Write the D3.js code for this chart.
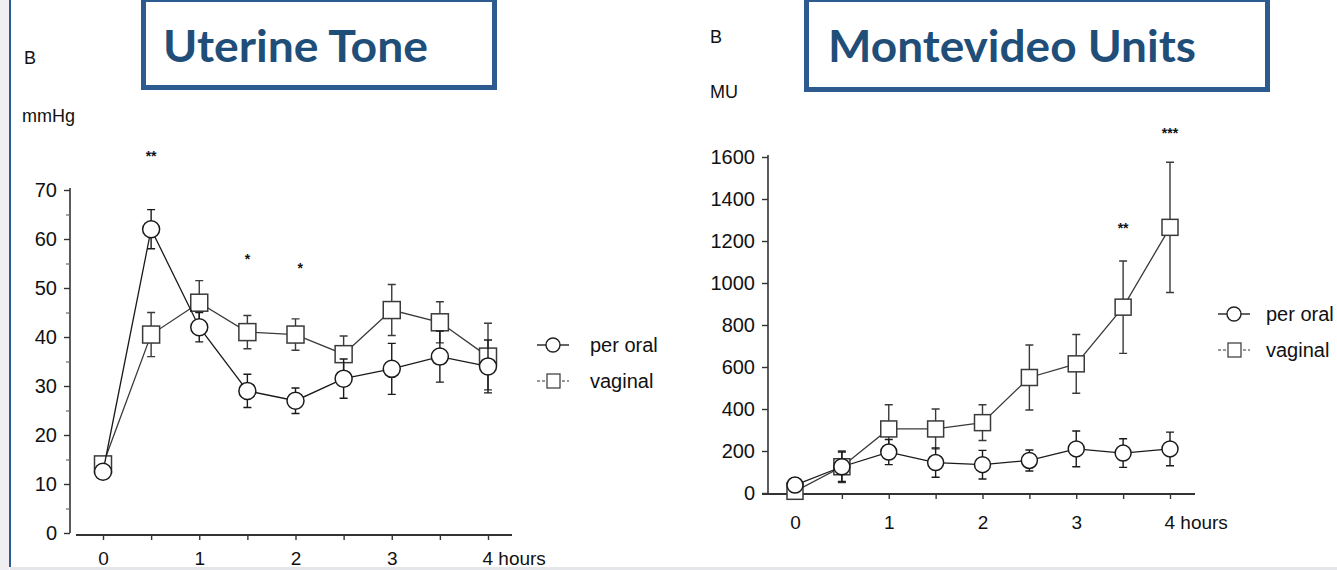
<!DOCTYPE html>
<html>
<head>
<meta charset="utf-8" />
<title>Uterine Tone / Montevideo Units</title>
<script src="https://d3js.org/d3.v7.min.js"></script>
<style>
  body { margin: 0; background: #fff; }
  text { font-family: "Liberation Sans", Arial, sans-serif; fill: #111; }
  .title { font-family: Lato, "Open Sans", sans-serif; font-weight: bold; fill: #1f4e79; }
</style>
</head>
<body>
<div id="canvas"></div>
<script>
// time points (hours)
var hours = [0, 0.5, 1, 1.5, 2, 2.5, 3, 3.5, 4];
var hourTicks = [0, 0.5, 1, 1.5, 2, 2.5, 3, 3.5, 4];
var hourLabels = ["0", "", "1", "", "2", "", "3", "", "4  hours"];

// uterine tone, mmHg
var toneOral = [12.5, 62, 42, 29, 27, 31.5, 33.5, 36, 34];
var toneOralSE = [1.2, 4, 3, 3.4, 2.6, 4, 5.2, 5.2, 5.4];
var toneVaginal = [14, 40.5, 47, 41, 40.5, 36.5, 45.5, 43, 36];
var toneVaginalSE = [1, 4.5, 4.5, 3.4, 3.2, 3.7, 5.2, 4.2, 6.8];
var toneTicks = [0, 10, 20, 30, 40, 50, 60, 70];
var toneStars = [{ h: 0.5, v: 76, t: "**" }, { h: 1.5, v: 55, t: "*" }, { h: 2.05, v: 53, t: "*" }];

// Montevideo units
var muOral = [38, 125, 195, 145, 135, 155, 210, 190, 210];
var muOralSE = [35, 70, 60, 70, 68, 50, 85, 68, 80];
var muVaginal = [8, 125, 305, 305, 335, 550, 615, 885, 1265];
var muVaginalSE = [10, 75, 115, 95, 85, 155, 140, 220, 310];
var muTicks = [0, 200, 400, 600, 800, 1000, 1200, 1400, 1600];
var muStars = [{ h: 3.5, v: 1240, t: "**" }, { h: 4, v: 1690, t: "***" }];

var svg = d3.select("#canvas").append("svg")
  .attr("width", 1337).attr("height", 570);

// slide frame
svg.append("rect").attr("x", 0).attr("y", 0).attr("width", 9).attr("height", 570).attr("fill", "#efeff1");
svg.append("line").attr("x1", 10).attr("x2", 10).attr("y1", 0).attr("y2", 567)
  .attr("stroke", "#2e5b8f").attr("stroke-width", 2);

function drawPanel(p) {
  var g = svg.append("g");
  var x = d3.scaleLinear().domain([0, 4]).range(p.xRange);
  var y = d3.scaleLinear().domain(p.yDomain).range(p.yRange);

  // y axis
  var yAxis = d3.axisLeft(y).tickValues(p.yTicks).tickSize(6).tickPadding(7).tickFormat(d3.format("d"));
  var ga = g.append("g").attr("transform", "translate(" + p.yAxisX + ",0)").call(yAxis);
  ga.attr("font-size", 20).attr("font-family", "Liberation Sans, Arial, sans-serif");
  ga.select(".domain").attr("stroke", "#333").attr("stroke-width", 1.6)
    .attr("d", "M0," + y(p.yDomain[0]) + "V" + (y(p.yDomain[1]) - 2));
  ga.selectAll(".tick line").attr("stroke", "#333").attr("stroke-width", 1.4);
  ga.selectAll(".tick text").attr("fill", "#111");
  if (p.minor) {
    g.append("g").attr("transform", "translate(" + p.yAxisX + ",0)")
      .call(d3.axisLeft(y).tickValues(p.minor).tickSize(4).tickFormat(""))
      .call(function (s) {
        s.select(".domain").remove();
        s.selectAll(".tick line").attr("stroke", "#666").attr("stroke-width", 1.2);
      });
  }

  // x axis
  var xAxis = d3.axisBottom(x).tickValues(hourTicks).tickSize(5).tickPadding(p.xPad)
    .tickFormat(function (d, i) { return hourLabels[i]; });
  var gx = g.append("g").attr("transform", "translate(0," + p.xAxisY + ")").call(xAxis);
  gx.attr("font-size", 19).attr("font-family", "Liberation Sans, Arial, sans-serif");
  gx.select(".domain").attr("stroke", "#333").attr("stroke-width", 2)
    .attr("d", "M" + p.xLine[0] + ",0H" + p.xLine[1]);
  gx.selectAll(".tick line").attr("stroke", "#333").attr("stroke-width", 1.4);
  gx.selectAll(".tick text").attr("fill", "#111")
    .attr("text-anchor", function (d, i) { return i === 8 ? "start" : "middle"; })
    .attr("dx", function (d, i) { return i === 8 ? -6 : 0; });

  var line = d3.line().x(function (d) { return x(d[0]); }).y(function (d) { return y(d[1]); });

  function series(vals, se, color, shape) {
    var pts = hours.map(function (h, i) { return [h, vals[i], se[i]]; });
    // error bars
    var eb = g.append("g").attr("stroke", color).attr("stroke-width", 1.4).attr("fill", "none");
    pts.forEach(function (d) {
      var x0 = x(d[0]), lo = y(Math.max(0, d[1] - d[2])), hi = y(d[1] + d[2]);
      eb.append("path").attr("d", "M" + x0 + "," + lo + "V" + hi +
        "M" + (x0 - 4) + "," + hi + "H" + (x0 + 4) + "M" + (x0 - 4) + "," + lo + "H" + (x0 + 4));
    });
    g.append("path").datum(pts).attr("d", line).attr("fill", "none")
      .attr("stroke", color).attr("stroke-width", 1.3);
    var m = g.append("g");
    pts.forEach(function (d) {
      if (shape === "circle") {
        m.append("circle").attr("cx", x(d[0])).attr("cy", y(d[1])).attr("r", p.r)
          .attr("fill", "#fff").attr("stroke", color).attr("stroke-width", 1.5);
      } else {
        m.append("rect").attr("x", x(d[0]) - p.r).attr("y", y(d[1]) - p.r)
          .attr("width", p.r * 2).attr("height", p.r * 2)
          .attr("fill", "#fff").attr("stroke", color).attr("stroke-width", 1.5);
      }
    });
  }
  series(p.vaginal, p.vaginalSE, "#3a3a3a", "square");
  series(p.oral, p.oralSE, "#1a1a1a", "circle");

  // significance marks
  p.stars.forEach(function (s) {
    g.append("text").attr("x", x(s.h)).attr("y", y(s.v)).attr("text-anchor", "middle")
      .attr("font-size", 14).attr("font-weight", "bold").text(s.t);
  });

  // legend
  var lg = g.append("g").attr("transform", "translate(" + p.legend[0] + "," + p.legend[1] + ")");
  lg.append("line").attr("x1", 0).attr("x2", 32).attr("y1", 0).attr("y2", 0).attr("stroke", "#222").attr("stroke-width", 1.4);
  lg.append("circle").attr("cx", 16).attr("cy", 0).attr("r", 7).attr("fill", "#fff").attr("stroke", "#222").attr("stroke-width", 1.4);
  lg.append("text").attr("x", p.legendGap).attr("y", 7).attr("font-size", 20).text("per oral");
  lg.append("line").attr("x1", 0).attr("x2", 32).attr("y1", 36).attr("y2", 36).attr("stroke", "#777")
    .attr("stroke-width", 1.3).attr("stroke-dasharray", "3,2");
  lg.append("rect").attr("x", 10).attr("y", 29).attr("width", 13).attr("height", 14).attr("fill", "#fff").attr("stroke", "#444").attr("stroke-width", 1.3);
  lg.append("text").attr("x", p.legendGap).attr("y", 43).attr("font-size", 20).text("vaginal");

  // labels
  g.append("text").attr("x", p.bPos[0]).attr("y", p.bPos[1]).attr("font-size", 18).text("B");
  g.append("text").attr("x", p.unitPos[0]).attr("y", p.unitPos[1]).attr("font-size", 18).text(p.unit);

  // title box
  svg.append("rect").attr("x", p.box[0]).attr("y", p.box[1]).attr("width", p.box[2]).attr("height", p.box[3])
    .attr("fill", "none").attr("stroke", "#2e5b8f").attr("stroke-width", 5);
  svg.append("text").attr("class", "title").attr("x", p.titlePos[0]).attr("y", p.titlePos[1])
    .attr("font-size", 43).attr("textLength", p.titleLen).attr("lengthAdjust", "spacingAndGlyphs")
    .text(p.title);
}

drawPanel({
  xRange: [103, 488], yDomain: [0, 70], yRange: [533, 190], yTicks: toneTicks,
  minor: [5, 15, 25, 35, 45, 55, 65], yAxisX: 70, xAxisY: 535, xLine: [76, 512], xPad: 12,
  oral: toneOral, oralSE: toneOralSE, vaginal: toneVaginal, vaginalSE: toneVaginalSE,
  stars: toneStars, r: 8.5, legend: [537, 345], legendGap: 53, bPos: [24, 64], unitPos: [22, 122], unit: "mmHg",
  box: [143.5, -0.5, 351, 88], titlePos: [163, 62], titleLen: 265, title: "Uterine Tone"
});

drawPanel({
  xRange: [795, 1170], yDomain: [0, 1600], yRange: [493, 157], yTicks: muTicks,
  yAxisX: 768, xAxisY: 494, xLine: [762, 1195], xPad: 17,
  oral: muOral, oralSE: muOralSE, vaginal: muVaginal, vaginalSE: muVaginalSE,
  stars: muStars, r: 8, legend: [1218, 314], legendGap: 48, bPos: [710, 43], unitPos: [710, 98], unit: "MU",
  box: [806.5, -0.5, 461, 90], titlePos: [828, 62], titleLen: 368, title: "Montevideo Units"
});

// bottom edge of slide
svg.append("rect").attr("x", 10).attr("y", 567).attr("width", 1327).attr("height", 3).attr("fill", "#e4e6ea");
</script>
</body>
</html>
